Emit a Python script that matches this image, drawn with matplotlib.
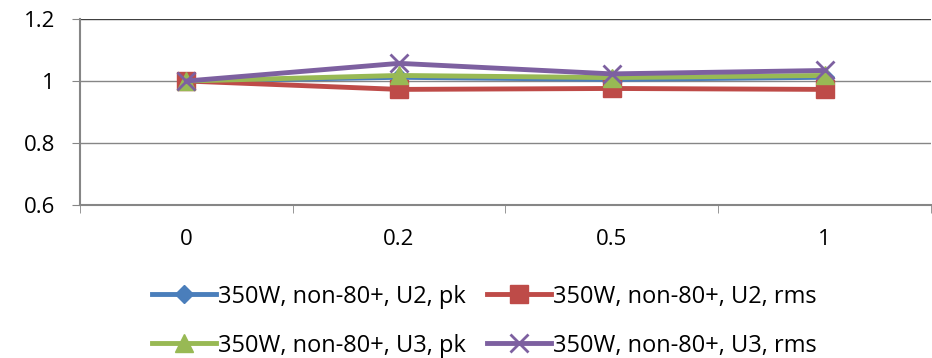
import numpy as np
import matplotlib.pyplot as plt

categories = ['0', '0.2', '0.5', '1']
u2_pk = [1.0, 1.012, 1.005, 1.012]
u2_rms = [1.0, 0.973, 0.976, 0.973]
u3_pk = [1.0, 1.018, 1.011, 1.018]
u3_rms = [1.0, 1.057, 1.023, 1.034]

labels = ['350W, non-80+, U2, pk', '350W, non-80+, U2, rms',
          '350W, non-80+, U3, pk', '350W, non-80+, U3, rms']

plt.rcParams['font.family'] = ['Open Sans', 'DejaVu Sans']

fig = plt.figure(figsize=(9.32, 3.58), dpi=100)
ax = fig.add_axes([0.0858, 0.427, 0.913, 0.52])

x = np.arange(len(categories))
h1, = ax.plot(x, u2_pk, color='#4a7ebb', lw=3.5, marker='D', ms=9, label=labels[0], zorder=3)
h2, = ax.plot(x, u2_rms, color='#be4b48', lw=3.5, marker='s', ms=13, label=labels[1], zorder=3)
h3, = ax.plot(x, u3_pk, color='#98b954', lw=3.5, marker='^', ms=13, label=labels[2], zorder=4)
h4, = ax.plot(x, u3_rms, color='#7d60a0', lw=3.5, marker='x', ms=13, mew=2, label=labels[3], zorder=5)

ax.set_ylim(0.6, 1.2)
ax.set_yticks([0.6, 0.8, 1.0, 1.2])
ax.set_yticklabels(['0.6', '0.8', '1', '1.2'], fontsize=16)
ax.set_xlim(-0.5, 3.5)
ax.set_xticks(x)
ax.set_xticklabels(categories, fontsize=16)
ax.tick_params(axis='x', length=0, pad=17)
ax.set_xticks(np.arange(-0.5, 4, 1), minor=True)
ax.tick_params(axis='x', which='minor', length=6, color='#868686')
ax.tick_params(axis='y', length=6, color='#868686', pad=12)

for v in [0.8, 1.0]:
    ax.axhline(v, color='#868686', lw=1, zorder=1)
ax.axhline(1.2, color='#404040', lw=1, zorder=1)

ax.spines['right'].set_visible(False)
ax.spines['top'].set_visible(False)
ax.spines['left'].set_color('#868686')
ax.spines['bottom'].set_color('#868686')
ax.spines['left'].set_linewidth(1.5)
ax.spines['bottom'].set_linewidth(1.5)

# legend order: row-wise (U2 pk, U2 rms / U3 pk, U3 rms)
fig.legend([h1, h3, h2, h4], [labels[0], labels[2], labels[1], labels[3]],
           loc='center', bbox_to_anchor=(0.52, 0.103), ncol=2, frameon=False,
           fontsize=17, handlelength=2.7, handletextpad=0.1, columnspacing=0.9,
           labelspacing=1.05, borderpad=0)

fig.savefig('out.png', dpi=100)
